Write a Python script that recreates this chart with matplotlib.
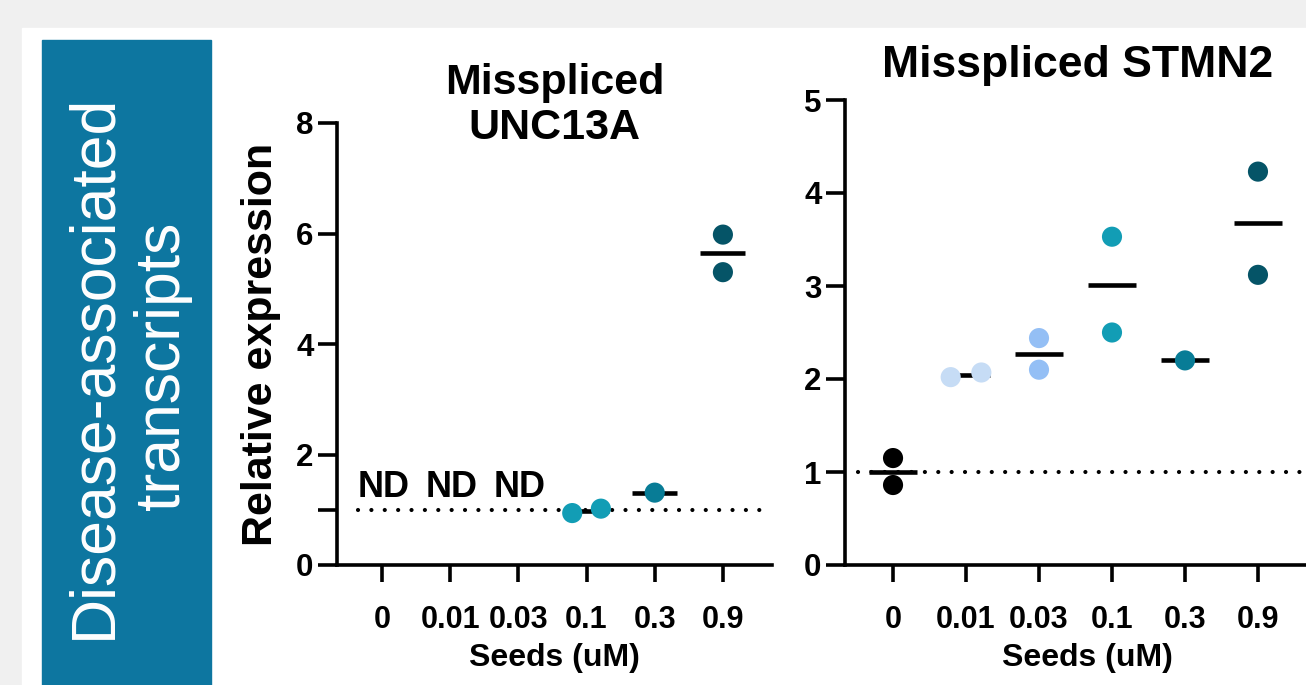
import matplotlib
matplotlib.use('Agg')
import numpy as np
import matplotlib.pyplot as plt
from matplotlib.patches import Rectangle

plt.rcParams['font.family'] = ['Liberation Sans', 'DejaVu Sans']
plt.rcParams['font.weight'] = 'bold'

# data
doses = ['0', '0.01', '0.03', '0.1', '0.3', '0.9']
dose_colors = ['#000000', '#c6dcf5', '#94bff5', '#129db5', '#087c96', '#055467']

# UNC13A: not detected (None) for the three lowest doses
unc13a = [None, None, None, [0.94, 1.02], [1.31], [5.98, 5.30]]
stmn2 = [[1.15, 0.86], [2.02, 2.07], [2.44, 2.10], [3.53, 2.50], [2.20], [4.23, 3.12]]

W, H = 1306, 685
fig = plt.figure(figsize=(W / 100, H / 100), dpi=100, facecolor='#f0f0f0')

# white panel and blue side box
fig.patches.append(Rectangle((22 / W, 0), 1 - 22 / W, 1 - 28 / H,
                             transform=fig.transFigure, color='white', zorder=-10))
fig.patches.append(Rectangle((42 / W, 0), (211 - 42) / W, 1 - 40 / H,
                             transform=fig.transFigure, color='#0d76a0', zorder=-9))
fig.text(128 / W, 1 - 366 / H, 'Disease-associated\ntranscripts', rotation=90,
         ha='center', va='center', multialignment='center', color='white',
         fontsize=45, fontweight='normal', linespacing=1.22)


def px_axes(x0, x1, y0, y1):
    return fig.add_axes([x0 / W, 1 - y1 / H, (x1 - x0) / W, (y1 - y0) / H])


def draw_panel(ax, groups, ylim):
    span = ylim[1] - ylim[0]
    for i, vals in enumerate(groups):
        if vals is None:
            continue
        m = np.mean(vals)
        ax.hlines(m, i - 0.33, i + 0.33, color='black', lw=3.3, zorder=3)
        if len(vals) == 2 and abs(vals[0] - vals[1]) < 0.05 * span:
            xs = [i - 0.21, i + 0.21]
        else:
            xs = [i] * len(vals)
        ax.scatter(xs, vals, s=210, color=dose_colors[i], edgecolors='none', zorder=4)
    ax.set_ylim(*ylim)
    ax.set_xticks(range(len(doses)))
    ax.set_xticklabels(doses)
    for s in ['top', 'right']:
        ax.spines[s].set_visible(False)
    for s in ['left', 'bottom']:
        ax.spines[s].set_linewidth(2.6)
    ax.tick_params(axis='x', length=12, width=2.6, pad=17, labelsize=22)
    ax.tick_params(axis='y', length=14, width=2.6, pad=3, labelsize=22.5)
    ax.set_facecolor('none')


# left panel: UNC13A
ax1 = px_axes(337, 772, 123, 565)
ax1.set_xlim(-0.66, 5.72)
draw_panel(ax1, unc13a, (0, 8))
ax1.set_yticks([0, 2, 4, 6, 8])
ax1.set_yticks([1], minor=True)
ax1.tick_params(axis='y', which='minor', length=14, width=2.6)
ax1.axhline(1, xmin=0.048, xmax=0.984, color='black', lw=3.0,
            linestyle=(0, (0.01, 3.2)), dash_capstyle='round', zorder=2)
for i, vals in enumerate(unc13a):
    if vals is None:
        ax1.text(i + 0.02, 1.4, 'ND', ha='center', va='center', fontsize=26,
                 fontweight='bold')
ax1.text(0.5, 1.04, 'Misspliced\nUNC13A', transform=ax1.transAxes, ha='center',
         va='center', fontsize=31, fontweight='bold', linespacing=1.15)
ax1.set_ylabel('Relative expression', fontsize=31, fontweight='bold')
ax1.yaxis.set_label_coords(-0.128, 0.498)
ax1.set_xlabel('Seeds (uM)', fontsize=23, fontweight='bold')
ax1.xaxis.set_label_coords(0.5, -0.176)

# right panel: STMN2
ax2 = px_axes(845, 1306, 100, 565)
ax2.set_xlim(-0.658, 5.658)
draw_panel(ax2, stmn2, (0, 5))
ax2.set_yticks([0, 1, 2, 3, 4, 5])
ax2.axhline(1, xmin=0.028, xmax=1.0, color='black', lw=3.0,
            linestyle=(0, (0.01, 3.2)), dash_capstyle='round', zorder=2)
ax2.text(0.505, 1.075, 'Misspliced STMN2', transform=ax2.transAxes, ha='center',
         va='center', fontsize=32, fontweight='bold')
ax2.set_xlabel('Seeds (uM)', fontsize=23, fontweight='bold')
ax2.xaxis.set_label_coords(0.525, -0.168)

fig.savefig('out.png', dpi=100, facecolor=fig.get_facecolor())
